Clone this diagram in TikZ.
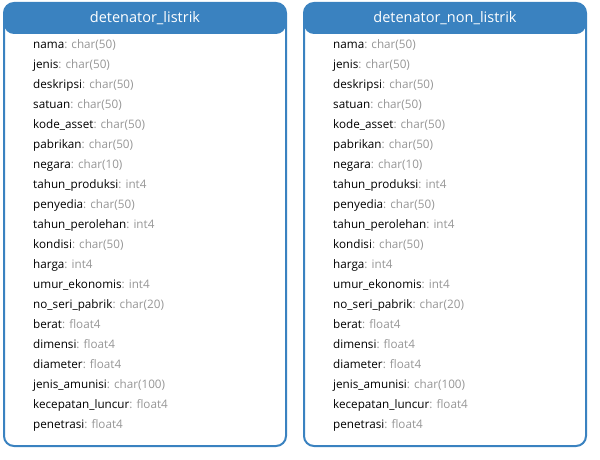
\documentclass[tikz,border=0pt]{standalone}
\usepackage{fontspec}
\setmainfont{Open Sans}
\usetikzlibrary{positioning}

\definecolor{hdrblue}{RGB}{58,130,192}
\definecolor{typegray}{RGB}{150,150,150}

\tikzset{
    tablebox/.style={draw=hdrblue, line width=2pt, rounded corners=10pt,
        minimum width=282pt, minimum height=443pt, inner sep=0pt,
        path picture={\fill[hdrblue] (path picture bounding box.north west)
            rectangle ([yshift=-31pt]path picture bounding box.north east);}},
    tabletitle/.style={text=white, font=\fontsize{14.5}{16}\selectfont, inner sep=0pt},
    field/.style={anchor=west, inner sep=0pt, text height=8.5pt, text depth=3pt,
        font=\fontsize{11.7}{13}\selectfont}
}

\newcommand{\fieldlist}{nama/char(50), jenis/char(50), deskripsi/char(50),
    satuan/char(50), kode\_asset/char(50), pabrikan/char(50), negara/char(10),
    tahun\_produksi/int4, penyedia/char(50), tahun\_perolehan/int4,
    kondisi/char(50), harga/int4, umur\_ekonomis/int4, no\_seri\_pabrik/char(20),
    berat/float4, dimensi/float4, diameter/float4, jenis\_amunisi/char(100),
    kecepatan\_luncur/float4, penetrasi/float4}

\begin{document}
\begin{tikzpicture}[x=1pt,y=1pt]
\useasboundingbox (0,0) rectangle (600,-460);

% Tables
\node[tablebox] (L) at (145,-224.5) {};
\node[tablebox] (R) at (445,-224.5) {};

\node[tabletitle] (Ltitle) at (145,-18) {detenator\_listrik};
\node[tabletitle] (Rtitle) at (445,-18) {detenator\_non\_listrik};

% Fields
\foreach \f/\t [count=\i] in \fieldlist {
    \node[field] (L\i) at (33,-25.5-20*\i) {\f\textcolor{typegray}{: \t}};
    \node[field] (R\i) at (333,-25.5-20*\i) {\f\textcolor{typegray}{: \t}};
}
\end{tikzpicture}
\end{document}
